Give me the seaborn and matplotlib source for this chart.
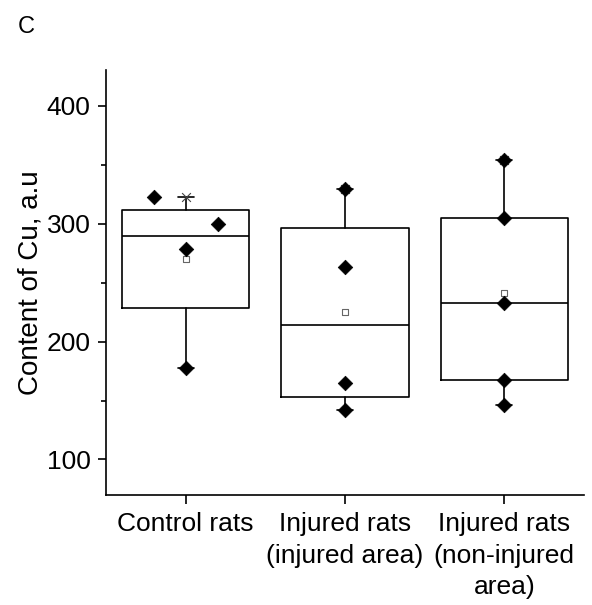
import numpy as np
import pandas as pd
import seaborn as sns
import matplotlib
matplotlib.use("Agg")
import matplotlib.pyplot as plt
from matplotlib.ticker import MultipleLocator

# data
groups = ["Control rats", "Injured rats\n(injured area)", "Injured rats\n(non-injured\narea)"]
control = [322.5, 300, 278.5, 177.5]
injured_area = [329, 263.5, 164.5, 142]
noninjured_area = [353.5, 305, 233, 167.5, 146.5]

# sideways shift of single points (layout only)
shift = [[-0.2, 0.2, 0, 0], [0, 0, 0, 0], [0, 0, 0, 0, 0]]

sns.set_theme(style="ticks")
plt.rcParams["font.family"] = ["Liberation Sans", "DejaVu Sans"]
plt.rcParams["text.color"] = "black"
plt.rcParams["axes.labelcolor"] = "black"
plt.rcParams["xtick.color"] = "black"
plt.rcParams["ytick.color"] = "black"
plt.rcParams["axes.edgecolor"] = "black"

series = [control, injured_area, noninjured_area]
rows = []
for i, (vals, offs) in enumerate(zip(series, shift)):
    for v, o in zip(vals, offs):
        rows.append({"pos": i + o, "group": groups[i], "value": v})
df = pd.DataFrame(rows)

# box stats (Origin style: midpoint quartiles, whiskers min/max)
stats = []
for vals in series:
    v = np.asarray(vals, float)
    q1, med, q3 = np.percentile(v, [25, 50, 75], method="midpoint")
    stats.append(dict(med=med, q1=q1, q3=q3, whislo=v.min(), whishi=v.max(), fliers=[]))
summ = pd.DataFrame({"pos": range(3),
                     "mean": [np.mean(v) for v in series],
                     "top": [np.max(v) for v in series]})

fig = plt.figure(figsize=(5.92, 6.05), dpi=100)
ax = fig.add_axes([0.179, 0.182, 0.8075, 0.702])

lw = 1.2
line = dict(color="black", linewidth=lw)
ax.bxp(stats, positions=range(3), widths=0.8, capwidths=0.1, showfliers=False,
       boxprops=line, whiskerprops=line, capprops=line, medianprops=line,
       zorder=2)

sns.scatterplot(data=summ, x="pos", y="top", marker="x", s=40, color="#444444",
                linewidth=0.8, zorder=3, ax=ax)
sns.scatterplot(data=summ, x="pos", y="mean", marker="s", s=22, facecolor="white",
                edgecolor="#666666", linewidth=0.8, zorder=3, ax=ax)
sns.scatterplot(data=df, x="pos", y="value", marker="D", s=55, color="black",
                edgecolor="black", linewidth=0.5, zorder=4, ax=ax)

ax.set_xlim(-0.5, 2.5)
ax.set_ylim(70, 430)
ax.set_xticks(range(3))
ax.set_xticklabels(groups, fontsize=19, linespacing=1.4)
ax.yaxis.set_major_locator(MultipleLocator(100))
ax.yaxis.set_minor_locator(MultipleLocator(50))
ax.tick_params(axis="y", which="major", labelsize=19, length=6, width=lw, pad=5)
ax.tick_params(axis="y", which="minor", length=3.5, width=lw)
ax.tick_params(axis="x", length=6.5, width=lw, pad=6)
ax.set_xlabel("")
ax.set_ylabel("Content of Cu, a.u", fontsize=20)
ax.yaxis.set_label_coords(-0.13, 0.5)
sns.despine(ax=ax)
for s in ["left", "bottom"]:
    ax.spines[s].set_linewidth(lw)

fig.text(0.030, 0.945, "C", fontsize=17, va="baseline")

fig.savefig("out.png", dpi=100)
